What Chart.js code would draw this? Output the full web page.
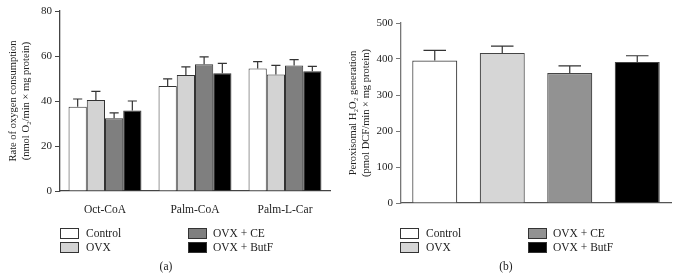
<!DOCTYPE html>
<html>
<head>
<meta charset="utf-8">
<script src="https://cdn.jsdelivr.net/npm/chart.js@4.4.1/dist/chart.umd.min.js"></script>
<style>
  body { margin: 0; background: #fff; font-family: "Liberation Serif", serif; color: #222; }
  #wrap { position: relative; width: 678px; height: 280px; overflow: hidden; }
  canvas { position: absolute; top: 0; }
  #cvA { left: 0; }
  #cvB { left: 340px; }
  .legend { position: absolute; font-size: 11.5px; }
  .item { position: absolute; white-space: nowrap; line-height: 12px; }
  .box { position: absolute; width: 17px; height: 9px; border: 1px solid #333; }
  .lbl { position: absolute; }
  .caption { position: absolute; top: 260px; font-size: 11.5px; width: 40px; text-align: center; }
</style>
</head>
<body>
<div id="wrap">
  <canvas id="cvA" width="340" height="280"></canvas>
  <canvas id="cvB" width="338" height="280"></canvas>
  <div class="caption" style="left:146px">(a)</div>
  <div class="caption" style="left:486px">(b)</div>
</div>
<script>
// (a) oxygen consumption, grouped by substrate
const substrates = ["Oct-CoA", "Palm-CoA", "Palm-L-Car"];
const groupNames = ["Control", "OVX", "OVX + CE", "OVX + ButF"];
const oxControl = [37.5, 46.7, 54.4];
const oxOVX = [40.4, 51.6, 51.8];
const oxCE = [32.3, 56.3, 55.8];
const oxButF = [35.8, 52.3, 53.2];
const oxControlErr = [3.4, 3.1, 3.1];
const oxOVXErr = [3.9, 3.6, 4.0];
const oxCEErr = [2.4, 3.3, 2.6];
const oxButFErr = [4.2, 4.4, 2.2];
const oxTicks = [0, 20, 40, 60, 80];

// (b) peroxisomal H2O2 generation
const h2o2Values = [396, 417, 361, 392];
const h2o2Err = [28, 19, 20, 17];
const h2o2Ticks = [0, 100, 200, 300, 400, 500];

const fillsA = ["#ffffff", "#d3d3d3", "#7f7f7f", "#000000"];
const fillsB = ["#ffffff", "#d6d6d6", "#929292", "#000000"];
const serif = "'Liberation Serif', serif";

const errorBars = {
  id: "errorBars",
  afterDatasetsDraw(chart) {
    const ctx = chart.ctx;
    const y = chart.scales.y;
    ctx.save();
    ctx.strokeStyle = "#333";
    ctx.lineWidth = 1.2;
    chart.data.datasets.forEach((ds, i) => {
      chart.getDatasetMeta(i).data.forEach((bar, j) => {
        const p = bar.getProps(["x", "y", "width"], true);
        const top = y.getPixelForValue(ds.data[j] + ds.errors[j]);
        const half = p.width / 4;
        ctx.beginPath();
        ctx.moveTo(p.x, p.y);
        ctx.lineTo(p.x, top);
        ctx.moveTo(p.x - half, top);
        ctx.lineTo(p.x + half, top);
        ctx.stroke();
      });
    });
    ctx.restore();
  }
};

function yScale(max, step, title, width, color, tickValues) {
  return {
    min: 0, max: max,
    afterFit: s => { s.width = width; },
    afterBuildTicks: s => { s.ticks = tickValues.map(v => ({ value: v })); },
    border: { display: true, color: color, width: 1.3 },
    grid: { drawOnChartArea: false, drawTicks: true, tickLength: 5, color: color },
    ticks: { stepSize: step, padding: 3, color: "#222", font: { family: serif, size: 11 } },
    title: {
      display: true, text: title, color: "#222",
      font: { family: serif, size: 10.5, lineHeight: 1.3 },
      padding: { top: 6, bottom: 0 }
    }
  };
}

const oxSeries = [
  [oxControl, oxControlErr], [oxOVX, oxOVXErr], [oxCE, oxCEErr], [oxButF, oxButFErr]
];

new Chart(document.getElementById("cvA"), {
  type: "bar",
  data: {
    labels: substrates,
    datasets: oxSeries.map((s, i) => ({
      label: groupNames[i],
      data: s[0],
      errors: s[1],
      backgroundColor: fillsA[i],
      borderColor: "#333",
      borderWidth: 1,
      categoryPercentage: 0.81,
      barPercentage: 1
    }))
  },
  options: {
    responsive: false,
    animation: false,
    layout: { padding: { left: 0, right: 10, top: 11, bottom: 0 } },
    plugins: { legend: { display: false }, tooltip: { enabled: false } },
    scales: {
      x: {
        afterFit: s => { s.height = 89; },
        border: { display: true, color: "#444", width: 1.3 },
        grid: { display: false },
        ticks: { padding: 4, color: "#222", font: { family: serif, size: 11.5 } }
      },
      y: yScale(80, 20, ["Rate of oxygen consumption", "(nmol O\u2082/min \u00d7 mg protein)"], 60, "#444", oxTicks)
    }
  },
  plugins: [errorBars]
});

new Chart(document.getElementById("cvB"), {
  type: "bar",
  data: {
    labels: groupNames,
    datasets: [{
      data: h2o2Values,
      errors: h2o2Err,
      backgroundColor: fillsB,
      borderColor: "#444",
      borderWidth: 1.2,
      categoryPercentage: 0.667,
      barPercentage: 1
    }]
  },
  options: {
    responsive: false,
    animation: false,
    layout: { padding: { left: 0, right: 7, top: 23, bottom: 0 } },
    plugins: { legend: { display: false }, tooltip: { enabled: false } },
    scales: {
      x: {
        afterFit: s => { s.height = 77; },
        border: { display: true, color: "#555", width: 1.3 },
        grid: { display: false },
        ticks: { display: false }
      },
      y: yScale(500, 100, ["Peroxisomal H\u2082O\u2082 generation", "(pmol DCF/min \u00d7 mg protein)"], 61, "#777", h2o2Ticks)
    }
  },
  plugins: [errorBars]
});

// 2 x 2 legends below each panel
function buildLegend(left, fills) {
  const wrap = document.getElementById("wrap");
  const leg = document.createElement("div");
  leg.className = "legend";
  leg.style.left = left + "px";
  leg.style.top = "228px";
  const spots = [[0, 0], [0, 14], [128, 0], [128, 14]];
  groupNames.forEach((name, i) => {
    const it = document.createElement("div");
    it.className = "item";
    it.style.left = spots[i][0] + "px";
    it.style.top = spots[i][1] + "px";
    const b = document.createElement("div");
    b.className = "box";
    b.style.background = fills[i];
    const t = document.createElement("span");
    t.className = "lbl";
    t.style.left = (i < 2 ? 26 : 25) + "px";
    t.style.top = "-1px";
    t.textContent = name;
    it.appendChild(b);
    it.appendChild(t);
    leg.appendChild(it);
  });
  wrap.appendChild(leg);
}
buildLegend(60, fillsA);
buildLegend(400, fillsB);
</script>
</body>
</html>
